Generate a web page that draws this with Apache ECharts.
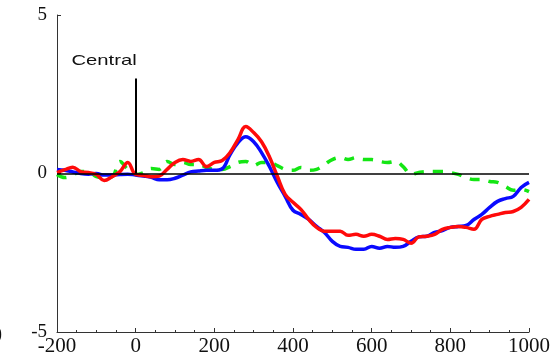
<!DOCTYPE html>
<html>
<head>
<meta charset="utf-8">
<script src="https://cdn.jsdelivr.net/npm/echarts@6/dist/echarts.min.js"></script>
<style>
    html, body { margin: 0; padding: 0; background: #fff; }
    #chart { width: 554px; height: 357px; }
</style>
</head>
<body>
<div id="chart"></div>
<script>
// time points (ms)
const times = [];
for (let t = -200; t <= 1000; t += 20) times.push(t);

const blueVals = [
    0.13, 0.10, 0.05, 0.00, -0.02, 0.00, -0.05, -0.05, -0.03, -0.02,
    -0.05, -0.08, -0.12, -0.20, -0.20, -0.15, -0.05, 0.05, 0.08, 0.10,
    0.10, 0.15, 0.60, 0.97, 1.16, 1.00, 0.66, 0.22, -0.28, -0.72,
    -1.16, -1.29, -1.45, -1.67, -1.86, -2.14, -2.30, -2.33, -2.39, -2.39,
    -2.30, -2.36, -2.30, -2.33, -2.30, -2.14, -2.00, -1.98, -1.86, -1.80,
    -1.70, -1.67, -1.64, -1.45, -1.29, -1.07, -0.88, -0.79, -0.72, -0.44,
    -0.28
];
const redVals = [
    0.03, 0.12, 0.20, 0.06, 0.03, -0.03, -0.22, -0.10, 0.06, 0.35,
    -0.03, -0.06, -0.10, -0.08, 0.13, 0.35, 0.44, 0.38, 0.44, 0.22,
    0.35, 0.41, 0.66, 1.07, 1.48, 1.29, 1.00, 0.53, -0.08, -0.66,
    -0.91, -1.13, -1.45, -1.70, -1.82, -1.82, -1.82, -1.95, -1.92, -1.98,
    -1.92, -1.98, -2.08, -2.05, -2.08, -2.20, -2.00, -1.98, -1.92, -1.76,
    -1.70, -1.67, -1.70, -1.76, -1.45, -1.35, -1.29, -1.23, -1.20, -1.07,
    -0.82
];
const greenVals = [
    -0.03, -0.13, -0.05, 0.06, 0.06, -0.10, -0.13, -0.10, 0.38, 0.13,
    -0.03, 0.03, 0.16, 0.13, 0.38, 0.28, 0.35, 0.28, 0.28, 0.19,
    0.13, 0.13, 0.22, 0.35, 0.38, 0.25, 0.35, 0.35, 0.25, 0.13,
    0.10, 0.19, 0.10, 0.13, 0.28, 0.44, 0.50, 0.44, 0.50, 0.44,
    0.44, 0.38, 0.35, 0.38, 0.22, -0.03, 0.03, 0.06, 0.06, 0.06,
    0.03, -0.03, -0.13, -0.19, -0.19, -0.25, -0.28, -0.41, -0.53, -0.50,
    -0.57
];

const xTicks = { min: -200, max: 1000, step: 200 };
const yTicks = { min: -5, max: 5, step: 5 };
const markerTop = 3;   // height of stimulus marker

function pairs(vals) {
    return times.map((t, i) => [t, vals[i]]);
}

const chart = echarts.init(document.getElementById('chart'));
const axisColor = '#333';

const option = {
    animation: false,
    backgroundColor: '#fff',
    grid: { left: 57, right: 25, top: 15, bottom: 24 },
    xAxis: {
        type: 'value',
        min: xTicks.min,
        max: xTicks.max,
        interval: xTicks.step,
        axisLine: { onZero: false, lineStyle: { color: axisColor, width: 1 } },
        axisTick: { inside: true, length: 4, lineStyle: { color: axisColor } },
        minorTick: { show: true, splitNumber: 4, length: 2, lineStyle: { color: axisColor } },
        splitLine: { show: false },
        axisLabel: {
            color: '#111',
            fontFamily: 'Liberation Serif',
            fontSize: 21,
            margin: 4,
            showMaxLabel: true,
            formatter: v => String(v)
        }
    },
    yAxis: {
        type: 'value',
        min: yTicks.min,
        max: yTicks.max,
        interval: yTicks.step,
        axisLine: { show: true, onZero: false, lineStyle: { color: axisColor, width: 1 } },
        axisTick: { show: true, inside: true, length: 4, lineStyle: { color: axisColor } },
        splitLine: { show: false },
        axisLabel: {
            color: '#111',
            fontFamily: 'Liberation Serif',
            fontSize: 19,
            margin: 10
        }
    },
    series: [
        {
            type: 'line',
            data: pairs(greenVals),
            smooth: 0.4,
            symbol: 'none',
            lineStyle: { color: '#14e614', width: 3.5, type: [10, 9] },
            z: 2
        },
        {
            type: 'line',
            data: pairs(blueVals),
            smooth: 0.4,
            symbol: 'none',
            lineStyle: { color: '#0a0aff', width: 3.5 },
            z: 3
        },
        {
            type: 'line',
            data: pairs(redVals),
            smooth: 0.4,
            symbol: 'none',
            lineStyle: { color: '#ff0a0a', width: 3.5 },
            z: 4
        },
        {
            // zero line and stimulus marker
            type: 'line',
            data: [],
            z: 5,
            markLine: {
                silent: true,
                symbol: 'none',
                label: { show: false },
                lineStyle: { color: '#000', type: 'solid' },
                data: [
                    { yAxis: 0, lineStyle: { width: 1.5 } },
                    [
                        { coord: [0, 0], lineStyle: { width: 2 } },
                        { coord: [0, markerTop] }
                    ]
                ]
            }
        }
    ]
};
chart.setOption(option);

// label above the marker
const markPos = chart.convertToPixel({ gridIndex: 0 }, [0, markerTop]);
chart.setOption({
    graphic: [
        {
            type: 'text',
            x: markPos[0] + 1,
            y: markPos[1] - 10,
            scaleX: 1.35,
            style: {
                text: 'Central',
                fill: '#111',
                font: '15px "Liberation Sans"',
                align: 'right',
                verticalAlign: 'bottom'
            }
        },
        {
            type: 'text',
            left: -4,
            top: 325,
            style: {
                text: ')',
                fill: '#111',
                font: '18px "Liberation Serif"'
            }
        }
    ]
});
</script>
</body>
</html>
